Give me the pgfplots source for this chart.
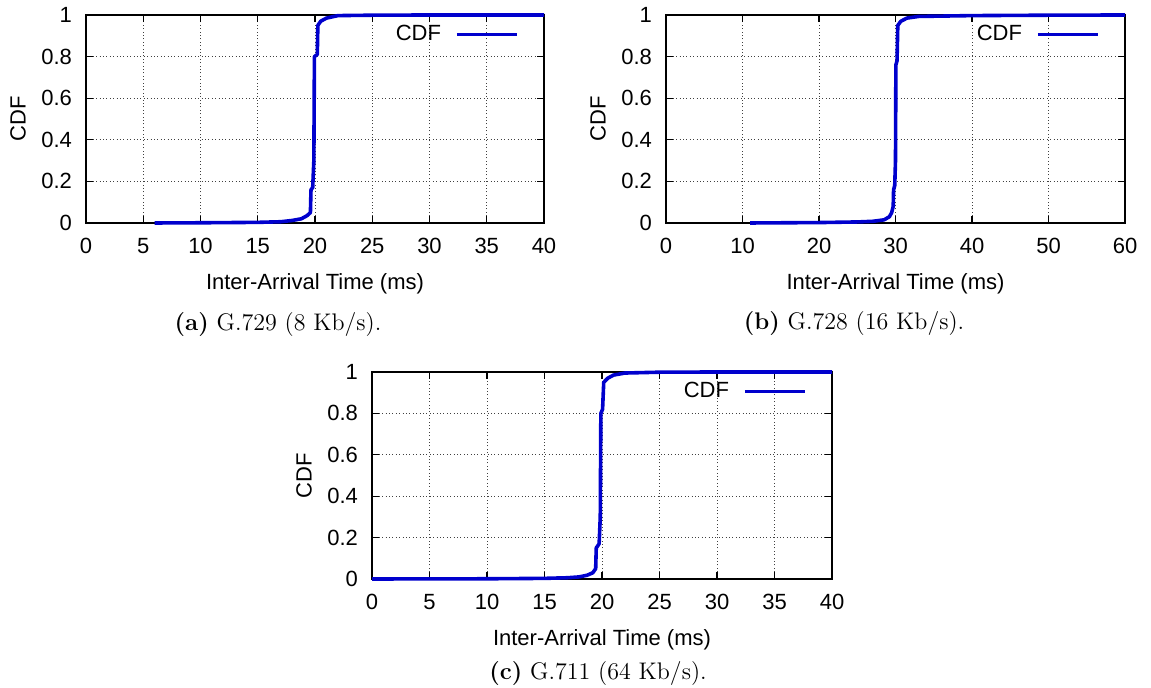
\documentclass[border=0pt]{standalone}
\usepackage{pgfplots}
\pgfplotsset{compat=1.18}
\usepackage{fontspec}
\newfontfamily\arial{Liberation Sans}
\definecolor{cdfblue}{RGB}{0,0,205}
\pgfplotsset{
 cdfstyle/.style={
  scale only axis, width=229pt, height=104pt,
  ymin=0, ymax=1, ytick={0,0.2,0.4,0.6,0.8,1},
  yticklabels={0,0.2,0.4,0.6,0.8,1},
  /pgf/number format/assume math mode=true,
  tick label style={font=\arial\fontsize{11}{13}\selectfont},
  label style={font=\arial\fontsize{11}{13}\selectfont},
  xticklabel style={yshift=-4pt},
  yticklabel style={xshift=-3.5pt},
  xlabel={Inter-Arrival Time (ms)},
  ylabel={CDF},
  xlabel style={at={(axis description cs:0.5,0)}, anchor=center, yshift=-30.5pt},
  ylabel style={at={(axis description cs:0,0.5)}, anchor=center, yshift=34pt},
  grid=major,
  major grid style={line width=0.4pt, black!75, dash pattern=on 0.5pt off 1.2pt},
  axis line style={line width=0.8pt, black},
  tick style={black, line width=0.6pt},
  major tick length=3.5pt,
  tick align=inside,
  clip=false,
  legend plot pos=right,
  legend image code/.code={\draw[#1] (0pt,0pt) -- (30pt,0pt);},
  legend style={draw=none, fill=none, at={(1,1)}, anchor=north east,
     column sep=5pt,
     xshift=-9.5pt, yshift=-1pt, font=\arial\fontsize{11}{13}\selectfont},
 },
 cdfline/.style={cdfblue, line width=1.8pt, line join=round, mark=none},
}
\begin{document}
\begin{tikzpicture}
\useasboundingbox (0,0) rectangle (575.5pt,344pt);
% (a)
\begin{axis}[cdfstyle, at={(43pt,232.5pt)}, anchor=south west,
  xmin=0, xmax=40, xtick={0,5,10,15,20,25,30,35,40}]
\addplot[cdfline] coordinates {
(6,0) (10,0.001) (15,0.003) (17,0.006) (18,0.012) (18.8,0.02) (19.3,0.035)
(19.6,0.05) (19.65,0.16) (19.8,0.17) (19.9,0.3) (19.95,0.8) (20.2,0.81)
(20.25,0.95) (20.5,0.97) (21,0.985) (22,0.997) (25,0.999) (30,1) (40,1)};
\addlegendentry{CDF}
\end{axis}
% (b)
\begin{axis}[cdfstyle, at={(333pt,232.5pt)}, anchor=south west, width=229.5pt,
  xmin=0, xmax=60, xtick={0,10,20,30,40,50,60}]
\addplot[cdfline] coordinates {
(11,0) (20,0.002) (25,0.005) (27,0.008) (28.5,0.015) (29.2,0.03) (29.5,0.05)
(29.7,0.08) (29.75,0.16) (29.9,0.18) (30,0.3) (30.05,0.76) (30.2,0.78)
(30.3,0.95) (30.7,0.97) (31.5,0.985) (33,0.993) (40,0.997) (50,0.999) (60,1)};
\addlegendentry{CDF}
\end{axis}
% (c)
\begin{axis}[cdfstyle, at={(186pt,54.5pt)}, anchor=south west, width=230pt, height=103.5pt,
  xmin=0, xmax=40, xtick={0,5,10,15,20,25,30,35,40}]
\addplot[cdfline] coordinates {
(0,0) (5,0.0005) (10,0.001) (15,0.003) (17,0.006) (18,0.01) (18.7,0.018)
(19.2,0.03) (19.45,0.05) (19.5,0.15) (19.75,0.17) (19.85,0.3) (19.9,0.8)
(20.05,0.82) (20.15,0.95) (20.5,0.97) (21,0.985) (22,0.995) (25,0.999) (30,1) (40,1)};
\addlegendentry{CDF}
\end{axis}
\node at (139pt,181.5pt) {\fontsize{12}{14}\selectfont\textbf{(a)} G.729 (8 Kb/s).};
\node at (427pt,182pt) {\fontsize{12}{14}\selectfont\textbf{(b)} G.728 (16 Kb/s).};
\node at (299pt,7pt) {\fontsize{12}{14}\selectfont\textbf{(c)} G.711 (64 Kb/s).};
\end{tikzpicture}
\end{document}
